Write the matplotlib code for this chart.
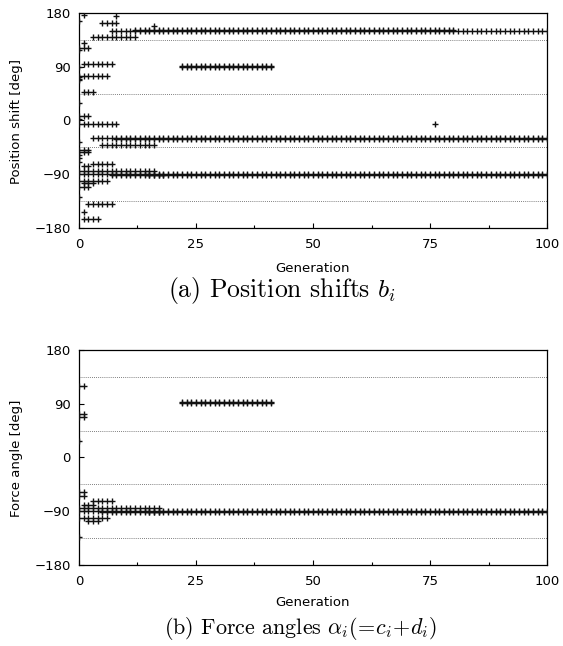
import numpy as np
import matplotlib
matplotlib.use("Agg")
import matplotlib.pyplot as plt

# ── (a) Position shifts b_i ──────────────────────────────────────────────────
# runs of one marker per generation: first gen, last gen, value [deg]
a_start = [7, 12, 5, 3, 0, 1, 22, 22, 0, 1, 0, 0, 3, 8, 5, 0, 0, 3, 1,
           0, 0, 15, 7, 0, 1, 0, 2, 1, 1]
a_stop = [100, 80, 8, 12, 2, 7, 41, 41, 6, 3, 2, 8, 100, 100, 16, 2, 2, 7, 2,
          16, 100, 100, 18, 6, 3, 2, 7, 1, 4]
a_value = [150, 151.5, 163, 140, 121, 94, 90, 91.5, 74, 48, 8, -6, -30, -31.5,
           -41, -49, -52, -73, -77, -85, -89, -90.5, -92, -101, -105, -111,
           -140, -153, -165]
# single points
a_gen = [1, 8, 16, 1, 76, 0, 0, 0, 0, 0, 0, 0, 0, 0, 0, 0, 0, 0]
a_val = [177, 175, 158, 130, -6, 167, 118, 90, 72, 70, 68, 29, 2, -36, -58,
         -63, -69, -128]

# ── (b) Force angles alpha_i ─────────────────────────────────────────────────
b_start = [0, 0, 0, 22, 22, 0, 0, 3, 1, 0, 0, 15, 5, 0, 2]
b_stop = [1, 1, 1, 41, 41, 1, 1, 7, 3, 17, 100, 100, 17, 6, 4]
b_value = [120, 73, 68, 91, 92.5, -57, -64, -73, -79, -85, -89, -90.5, -92,
           -101, -107]
b_gen = [0, 0]
b_val = [28, -133]

x_ticks = [0, 25, 50, 75, 100]
y_ticks = [-180, -90, 0, 90, 180]
grid_y = [-135, -45, 45, 135]


def expand(starts, stops, values, gens, vals):
    xs, ys = list(gens), list(vals)
    for s, e, v in zip(starts, stops, values):
        for g in range(s, e + 1):
            xs.append(g)
            ys.append(v)
    return xs, ys


def panel(ax, xs, ys):
    ax.plot(xs, ys, linestyle="none", marker="+", ms=4.0, mew=1.0,
            color="#111111", zorder=3)
    ax.set_xlim(0, 100)
    ax.set_ylim(-180, 180)
    ax.set_xticks(x_ticks)
    ax.set_xticks(np.arange(12.5, 100, 25), minor=True)
    ax.set_yticks(y_ticks)
    ax.set_yticks(grid_y, minor=True)
    ax.yaxis.grid(True, which="minor", linestyle=(0, (1, 1.5)),
                  color="#555555", linewidth=0.6)
    ax.tick_params(which="major", direction="in", length=3.8, width=0.8,
                   labelsize=9.5, top=False, right=False)
    ax.tick_params(axis="x", which="major", pad=7.5)
    ax.tick_params(axis="y", which="major", pad=6)
    ax.tick_params(axis="x", which="minor", direction="in", length=2.2,
                   width=0.8, top=False)
    ax.tick_params(axis="y", which="minor", length=0)
    for sp in ax.spines.values():
        sp.set_linewidth(0.9)


plt.rcParams["mathtext.fontset"] = "cm"

fig = plt.figure(figsize=(5.63, 6.46), dpi=100)
ax1 = fig.add_axes([0.1403, 0.6471, 0.8313, 0.3328])
ax2 = fig.add_axes([0.1403, 0.1254, 0.8313, 0.3328])

panel(ax1, *expand(a_start, a_stop, a_value, a_gen, a_val))
panel(ax2, *expand(b_start, b_stop, b_value, b_gen, b_val))

W, H = 563, 646
fig.text(17 / W, 1 - 121 / H, "Position shift [deg]", rotation=90,
         ha="center", va="center", fontsize=9.5)
fig.text(17 / W, 1 - 458 / H, "Force angle [deg]", rotation=90,
         ha="center", va="center", fontsize=9.5)
fig.text(313 / W, 1 - 269 / H, "Generation", ha="center", va="center",
         fontsize=9.5)
fig.text(313 / W, 1 - 603 / H, "Generation", ha="center", va="center",
         fontsize=9.5)

# captions (serif, LaTeX look)
fig.text(168 / W, 1 - 297 / H, r"(a) Position shifts $b_i$", ha="left",
         family="cmr10", fontsize=18.5, va="baseline")
tb = fig.text(164 / W, 1 - 634 / H,
              r"(b) Force angles $\alpha_i(\!=\!c_i\!+\!d_i)$", ha="left",
              family="cmr10", fontsize=16, va="baseline")

# scale the second caption so that it spans x = 164 .. 437 px
fig.canvas.draw()
w = tb.get_window_extent(fig.canvas.get_renderer()).width
tb.set_fontsize(16 * (437 - 164) / w)

fig.savefig("out.png", dpi=100)
